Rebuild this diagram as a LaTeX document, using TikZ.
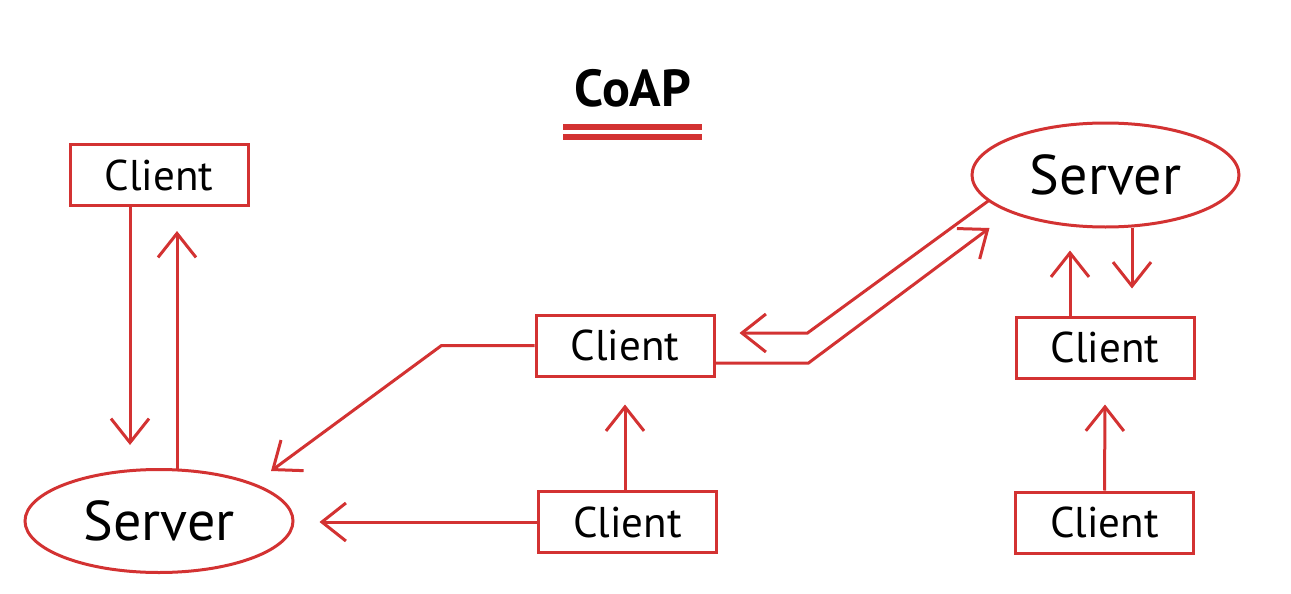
\documentclass[tikz,border=0pt]{standalone}
\usepackage{fontspec}
\setmainfont{PT Sans}
\usetikzlibrary{arrows.meta,calc,shapes.geometric}
\definecolor{coapred}{RGB}{211,50,50}
\begin{document}
\begin{tikzpicture}[x=1pt,y=-1pt,
  clientbox/.style={draw=coapred,line width=3pt,rectangle,inner sep=0pt,minimum width=178pt,minimum height=61pt,font=\fontsize{43}{43}\selectfont},
  serverell/.style={draw=coapred,line width=3pt,ellipse,inner sep=0pt,minimum width=268pt,minimum height=103pt,font=\fontsize{56}{56}\selectfont},
  arr/.style={draw=coapred,line width=3pt,-{Straight Barb[length=24pt,width=38pt]}},
  lnk/.style={draw=coapred,line width=3pt}]
\useasboundingbox (0,0) rectangle (1291,594);
\node[font=\fontsize{52}{52}\bfseries\selectfont,inner sep=0pt] (title) at (633,88) {CoAP};
\draw[coapred,line width=6pt] (563,127) -- (702,127);
\draw[coapred,line width=6pt] (563,137) -- (702,137);

\node[clientbox] (c1) at (159,175) {Client};
\node[serverell] (s1) at (159,521) {Server};
\node[clientbox] (c2) at (625,345.5) {Client};
\node[clientbox] (c3) at (627.5,522) {Client};
\node[serverell,minimum width=267pt,minimum height=104pt] (s2) at (1105.5,175) {Server};
\node[clientbox] (c4) at (1105,347.5) {Client};
\node[clientbox] (c5) at (1104.5,522.5) {Client};

% left pair
\draw[arr] ($(c1.south)+(-29,0)$) -- ($(s1.north)+(-29,-23)$);
\draw[arr] ($(s1.north)+(18,1)$) -- ($(c1.south)+(18,24)$);
% middle
\coordinate (k1) at ($(c2.west)+(-93,0)$);
\draw[arr] (c2.west) -- (k1) -- ($(s1.center)+(112,-50)$);
\draw[arr] (c3.west) -- ($(s1.east)+(25,1)$);
\draw[arr] ($(c3.north)+(-2.5,0)$) -- ($(c2.south)+(0,27)$);
% double link to right server
\coordinate (k2) at ($(c2.east)+(93,17.5)$);
\draw[arr] ($(c2.east)+(0,17.5)$) -- (k2) -- ($(s2.center)+(-116,53)$);
\coordinate (k3) at ($(s2.center)+(-298,158)$);
\draw[arr] ($(s2.center)+(-116.5,25.4)$) -- (k3) -- ($(k3)+(-68,0)$);
% right
\draw[arr] ($(c4.north)+(-35,0)$) -- ($(s2.south)+(-35.5,22)$);
\draw[arr] ($(s2.south)+(26.5,-1)$) -- ($(c4.north)+(27,-27)$);
\draw[arr] (c5.north) -- ($(c4.south)+(0,25)$);
\end{tikzpicture}
\end{document}
